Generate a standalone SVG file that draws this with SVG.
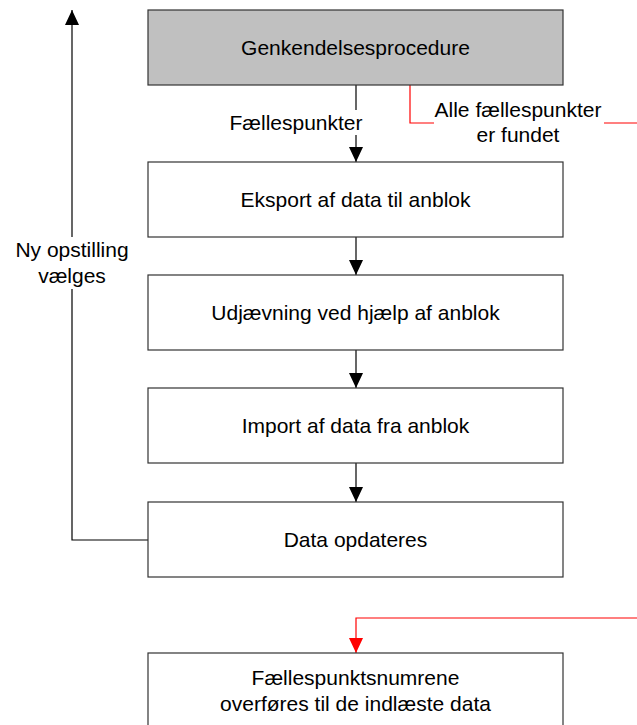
<svg xmlns="http://www.w3.org/2000/svg" width="637" height="725" viewBox="0 0 637 725">
  <style>
    .box { fill: #ffffff; stroke: #333333; stroke-width: 1.2; }
    .box.grey { fill: #c0c0c0; }
    .lbl { font-family: "Liberation Sans", Arial, sans-serif; font-size: 21px; fill: #000000; text-anchor: middle; }
    .link { fill: none; stroke: #000000; stroke-width: 1.2; }
    .link.red { stroke: #ff0000; }
  </style>
  <defs>
    <marker id="arrow" viewBox="0 0 15 14" refX="15" refY="7" markerWidth="15" markerHeight="14" markerUnits="userSpaceOnUse" orient="auto">
      <path d="M0,0 L15,7 L0,14 Z" fill="#000000"/>
    </marker>
    <marker id="arrow-red" viewBox="0 0 15 14" refX="15" refY="7" markerWidth="15" markerHeight="14" markerUnits="userSpaceOnUse" orient="auto">
      <path d="M0,0 L15,7 L0,14 Z" fill="#ff0000"/>
    </marker>
  </defs>

  <g id="connectors">
    <!-- Genkendelsesprocedure -> Eksport (label breaks the line) -->
    <path class="link" d="M356,85 V110"/>
    <path class="link" d="M356,135 V162" marker-end="url(#arrow)"/>
    <text class="lbl" x="296" y="130">Fællespunkter</text>

    <!-- straight flow down the column -->
    <path class="link" d="M356,237 V275" marker-end="url(#arrow)"/>
    <path class="link" d="M356,350 V388" marker-end="url(#arrow)"/>
    <path class="link" d="M356,463 V502" marker-end="url(#arrow)"/>

    <!-- loop back: Data opdateres -> top -->
    <path class="link" d="M148,540 H72 V289"/>
    <path class="link" d="M72,237 V10" marker-end="url(#arrow)"/>
    <text class="lbl" x="72" y="257">Ny opstilling</text>
    <text class="lbl" x="72" y="283">vælges</text>

    <!-- exit: all common points found -->
    <path class="link red" d="M410,85 V123 H434"/>
    <path class="link red" d="M604,123 H637"/>
    <text class="lbl" x="518" y="117">Alle fællespunkter</text>
    <text class="lbl" x="518" y="142">er fundet</text>

    <path class="link red" d="M637,618 H356 V653" marker-end="url(#arrow-red)"/>
  </g>

  <g id="node-genkendelse">
    <rect class="box grey" x="148" y="10" width="415" height="75"/>
    <text class="lbl" x="355.5" y="54.5">Genkendelsesprocedure</text>
  </g>
  <g id="node-eksport">
    <rect class="box" x="148" y="162" width="415" height="75"/>
    <text class="lbl" x="355.5" y="207">Eksport af data til anblok</text>
  </g>
  <g id="node-udjaevning">
    <rect class="box" x="148" y="275" width="415" height="75"/>
    <text class="lbl" x="355.5" y="320">Udjævning ved hjælp af anblok</text>
  </g>
  <g id="node-import">
    <rect class="box" x="148" y="388" width="415" height="75"/>
    <text class="lbl" x="355.5" y="433">Import af data fra anblok</text>
  </g>
  <g id="node-opdatering">
    <rect class="box" x="148" y="502" width="415" height="75"/>
    <text class="lbl" x="355.5" y="547">Data opdateres</text>
  </g>
  <g id="node-overfoersel">
    <rect class="box" x="148" y="653" width="415" height="75"/>
    <text class="lbl" x="355.5" y="685">Fællespunktsnumrene</text>
    <text class="lbl" x="355.5" y="711">overføres til de indlæste data</text>
  </g>
</svg>
